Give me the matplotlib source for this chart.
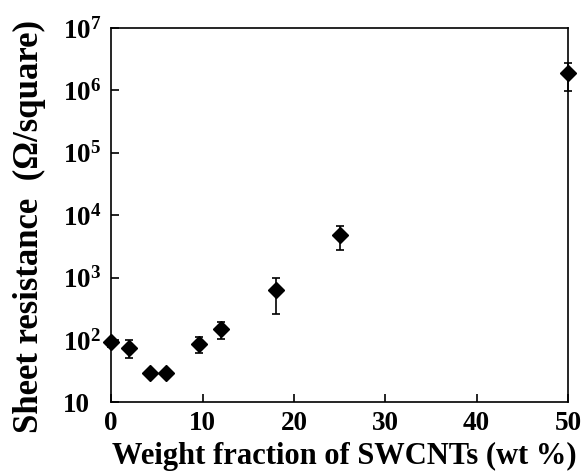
import matplotlib
matplotlib.use("Agg")
from matplotlib import pyplot as plt
from matplotlib.ticker import FixedLocator, FixedFormatter, LogLocator, NullFormatter
import numpy as np

plt.rcParams['font.family'] = ['Liberation Serif', 'DejaVu Serif']
plt.rcParams['font.weight'] = 'bold'
plt.rcParams['mathtext.fontset'] = 'custom'
plt.rcParams['mathtext.rm'] = 'Liberation Serif:bold'
plt.rcParams['mathtext.bf'] = 'Liberation Serif:bold'
plt.rcParams['mathtext.it'] = 'Liberation Serif:bold'

# data
wt_frac = [0, 2, 4.3, 6, 9.6, 12, 18, 25, 50]
resistance = [93, 75, 29, 29, 85, 150, 630, 4800, 1.9e6]
err_low = [16, 24, 0, 0, 23, 45, 374, 2050, 9.2e5]
err_high = [12, 26, 0, 0, 27, 47, 370, 2000, 9e5]

x_ticks = [0, 10, 20, 30, 40, 50]
y_ticks = [1e1, 1e2, 1e3, 1e4, 1e5, 1e6, 1e7]
y_labels = ['10'] + [r'$\mathbf{10^{%d}}$' % n for n in range(2, 8)]

fig = plt.figure(figsize=(5.85, 4.76), dpi=100)
ax = fig.add_axes([0.19, 0.155, 0.781, 0.786])

ax.errorbar(wt_frac, resistance, yerr=[err_low, err_high], fmt='D', color='black',
            markersize=8, ecolor='black', elinewidth=1.2, capsize=3, capthick=1.2,
            clip_on=False, zorder=3)

ax.set_yscale('log')
ax.set_xlim(0, 50)
ax.set_ylim(10, 1e7)

ax.xaxis.set_major_locator(FixedLocator(x_ticks))
ax.yaxis.set_major_locator(FixedLocator(y_ticks))
ax.yaxis.set_major_formatter(FixedFormatter(y_labels))
ax.yaxis.set_minor_locator(LogLocator(base=10, subs=np.arange(2, 10)))
ax.yaxis.set_minor_formatter(NullFormatter())

ax.tick_params(axis='both', which='major', direction='in', length=6, width=1.2,
               labelsize=19.5, pad=6)
ax.tick_params(axis='y', which='major', pad=35)
ax.tick_params(axis='y', which='minor', direction='in', length=3.5, width=1)
for lab in ax.get_xticklabels() + ax.get_yticklabels():
    lab.set_fontweight('bold')
for lab in ax.get_yticklabels():
    lab.set_horizontalalignment('left')
for s in ax.spines.values():
    s.set_linewidth(1.2)

ax.set_xlabel('Weight fraction of SWCNTs (wt %)', fontsize=22, fontweight='bold')
ax.xaxis.set_label_coords(0.51, -0.105)
ax.xaxis.label.set_va('top')
ax.set_ylabel('Sheet resistance  (Ω/square)', fontsize=25, fontweight='bold')
ax.yaxis.set_label_coords(-0.142, 0.47)

fig.savefig('out.png', dpi=100)
